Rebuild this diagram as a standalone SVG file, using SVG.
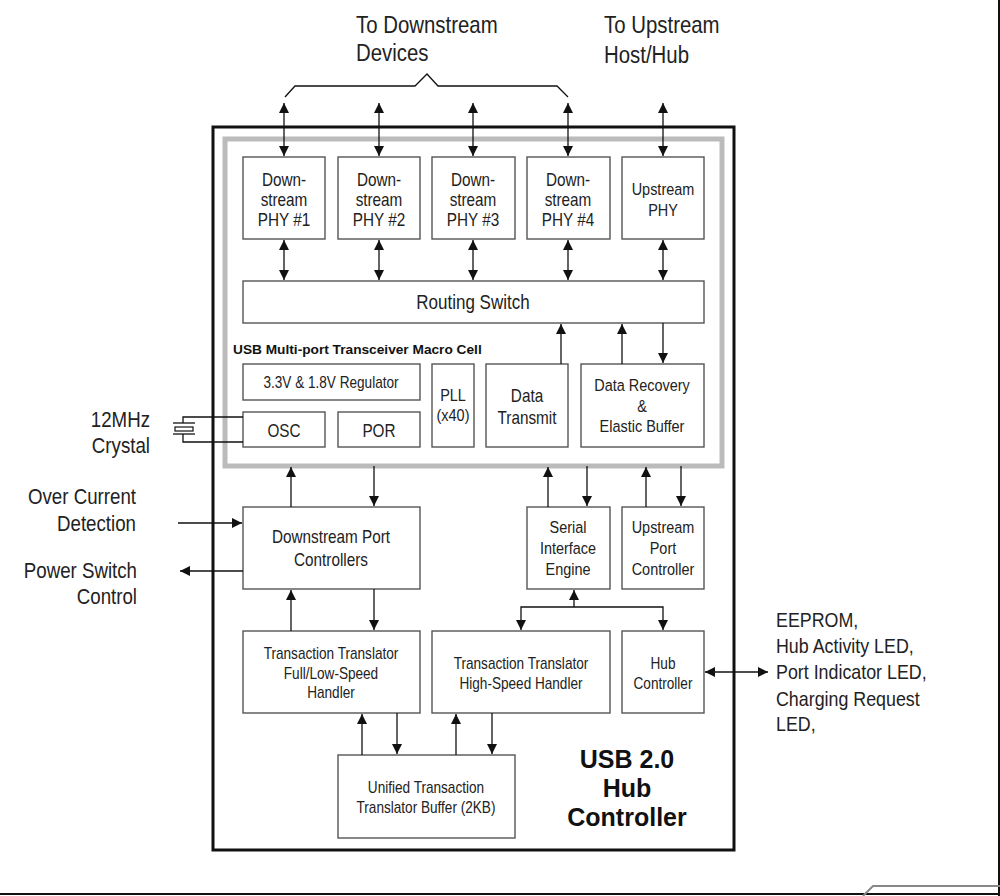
<svg xmlns="http://www.w3.org/2000/svg" width="1000" height="896" viewBox="0 0 1000 896">
<defs>
<style>
.box{fill:#fff;stroke:#555;stroke-width:1.4}
.w{stroke:#111;stroke-width:1.3;fill:none}
.t{font-family:"Liberation Sans",Arial,sans-serif;fill:#222;text-anchor:middle}
.l{font-family:"Liberation Sans",Arial,sans-serif;fill:#222}
.b{font-family:"Liberation Sans",Arial,sans-serif;font-weight:bold;fill:#111}
</style>
<marker id="a" viewBox="0 0 10 10" refX="10" refY="5" markerWidth="10" markerHeight="10" markerUnits="userSpaceOnUse" orient="auto-start-reverse">
<path d="M0,0 L10,5 L0,10 z" fill="#111"/>
</marker>
</defs>
<rect width="1000" height="896" fill="#fff"/>
<g id="frame">
<line x1="0" y1="894" x2="1000" y2="894" stroke="#111" stroke-width="2"/>
<line x1="999" y1="0" x2="999" y2="896" stroke="#111" stroke-width="2"/>
<polyline points="863,896 873,886 1000,886" fill="none" stroke="#888" stroke-width="2"/>
</g>
<g id="hub-controller-chip">
<rect x="213" y="127" width="521" height="723" fill="#fff" stroke="#111" stroke-width="3"/>
<text class="b" font-size="25" text-anchor="middle"><tspan x="627" y="768">USB 2.0</tspan><tspan x="627" y="797">Hub</tspan><tspan x="627" y="826">Controller</tspan></text>
</g>
<g id="macro-cell">
<rect x="225" y="139" width="497" height="327" fill="none" stroke="#bbb" stroke-width="5"/>
<text class="b" x="233" y="354" font-size="13.7">USB Multi-port Transceiver Macro Cell</text>
</g>
<g id="phy1"><rect class="box" x="243" y="157" width="82" height="82"/><text class="t" font-size="18" transform="matrix(0.85 0 0 1 42.6 0)"><tspan x="284" y="186">Down-</tspan><tspan x="284" y="206">stream</tspan><tspan x="284" y="226">PHY #1</tspan></text></g>
<g id="phy2"><rect class="box" x="338" y="157" width="82" height="82"/><text class="t" font-size="18" transform="matrix(0.85 0 0 1 56.85 0)"><tspan x="379" y="186">Down-</tspan><tspan x="379" y="206">stream</tspan><tspan x="379" y="226">PHY #2</tspan></text></g>
<g id="phy3"><rect class="box" x="432" y="157" width="83" height="82"/><text class="t" font-size="18" transform="matrix(0.85 0 0 1 70.95 0)"><tspan x="473" y="186">Down-</tspan><tspan x="473" y="206">stream</tspan><tspan x="473" y="226">PHY #3</tspan></text></g>
<g id="phy4"><rect class="box" x="527" y="157" width="83" height="82"/><text class="t" font-size="18" transform="matrix(0.85 0 0 1 85.2 0)"><tspan x="568" y="186">Down-</tspan><tspan x="568" y="206">stream</tspan><tspan x="568" y="226">PHY #4</tspan></text></g>
<g id="upstream-phy"><rect class="box" x="622" y="157" width="82" height="82"/><text class="t" font-size="17" transform="matrix(0.85 0 0 1 99.45 0)"><tspan x="663" y="195">Upstream</tspan><tspan x="663" y="216">PHY</tspan></text></g>
<g id="routing-switch"><rect class="box" x="243" y="281" width="461" height="42"/><text class="t" x="473" y="309" font-size="20" transform="matrix(0.85 0 0 1 70.95 0)">Routing Switch</text></g>
<g id="regulator"><rect class="box" x="243" y="364" width="177" height="36"/><text class="t" x="331" y="388" font-size="16" transform="matrix(0.85 0 0 1 49.65 0)">3.3V &amp; 1.8V Regulator</text></g>
<g id="osc"><rect class="box" x="243" y="412" width="82" height="35"/><text class="t" x="284" y="437" font-size="18" transform="matrix(0.85 0 0 1 42.6 0)">OSC</text></g>
<g id="por"><rect class="box" x="338" y="412" width="82" height="35"/><text class="t" x="379" y="437" font-size="18" transform="matrix(0.85 0 0 1 56.85 0)">POR</text></g>
<g id="pll"><rect class="box" x="432" y="364" width="42" height="83"/><text class="t" font-size="17" transform="matrix(0.85 0 0 1 67.95 0)"><tspan x="453" y="401">PLL</tspan><tspan x="453" y="421">(x40)</tspan></text></g>
<g id="data-transmit"><rect class="box" x="486" y="364" width="82" height="83"/><text class="t" font-size="18" transform="matrix(0.85 0 0 1 79.05 0)"><tspan x="527" y="402">Data</tspan><tspan x="527" y="424">Transmit</tspan></text></g>
<g id="data-recovery"><rect class="box" x="581" y="364" width="123" height="83"/><text class="t" font-size="17" transform="matrix(0.85 0 0 1 96.3 0)"><tspan x="642" y="391">Data Recovery</tspan><tspan x="642" y="412">&amp;</tspan><tspan x="642" y="432">Elastic Buffer</tspan></text></g>
<g id="downstream-port-controllers"><rect class="box" x="243" y="507" width="177" height="82"/><text class="t" font-size="18" transform="matrix(0.85 0 0 1 49.65 0)"><tspan x="331" y="543">Downstream Port</tspan><tspan x="331" y="566">Controllers</tspan></text></g>
<g id="serial-interface-engine"><rect class="box" x="527" y="507" width="83" height="82"/><text class="t" font-size="17" transform="matrix(0.85 0 0 1 85.2 0)"><tspan x="568" y="533">Serial</tspan><tspan x="568" y="554">Interface</tspan><tspan x="568" y="575">Engine</tspan></text></g>
<g id="upstream-port-controller"><rect class="box" x="622" y="507" width="82" height="82"/><text class="t" font-size="17" transform="matrix(0.85 0 0 1 99.45 0)"><tspan x="663" y="533">Upstream</tspan><tspan x="663" y="554">Port</tspan><tspan x="663" y="575">Controller</tspan></text></g>
<g id="tt-fs-ls"><rect class="box" x="243" y="631" width="177" height="82"/><text class="t" font-size="16" transform="matrix(0.85 0 0 1 49.65 0)"><tspan x="331" y="659">Transaction Translator</tspan><tspan x="331" y="679">Full/Low-Speed</tspan><tspan x="331" y="698">Handler</tspan></text></g>
<g id="tt-hs"><rect class="box" x="432" y="631" width="178" height="82"/><text class="t" font-size="16" transform="matrix(0.85 0 0 1 78.15 0)"><tspan x="521" y="669">Transaction Translator</tspan><tspan x="521" y="689">High-Speed Handler</tspan></text></g>
<g id="hub-controller"><rect class="box" x="622" y="631" width="82" height="82"/><text class="t" font-size="16" transform="matrix(0.85 0 0 1 99.45 0)"><tspan x="663" y="669">Hub</tspan><tspan x="663" y="689">Controller</tspan></text></g>
<g id="tt-buffer"><rect class="box" x="338" y="755" width="177" height="83"/><text class="t" font-size="16" transform="matrix(0.85 0 0 1 63.9 0)"><tspan x="426" y="793">Unified Transaction</tspan><tspan x="426" y="813">Translator Buffer (2KB)</tspan></text></g>
<g id="crystal">
<line class="w" x1="173" y1="423" x2="195" y2="423"/>
<rect x="175" y="427" width="18" height="4" fill="none" stroke="#111" stroke-width="1.2"/>
<line class="w" x1="173" y1="434" x2="195" y2="434"/>
<text class="l" font-size="22" text-anchor="end" transform="matrix(0.85 0 0 1 22.5 0)"><tspan x="150" y="427">12MHz</tspan><tspan x="150" y="453">Crystal</tspan></text>
</g>
<g id="external-labels">
<text class="l" font-size="24" transform="matrix(0.85 0 0 1 53.4 0)"><tspan x="356" y="33">To Downstream</tspan><tspan x="356" y="61">Devices</tspan></text>
<text class="l" font-size="24" transform="matrix(0.85 0 0 1 90.6 0)"><tspan x="604" y="33">To Upstream</tspan><tspan x="604" y="63">Host/Hub</tspan></text>
<text class="l" font-size="22" text-anchor="end" transform="matrix(0.85 0 0 1 20.4 0)"><tspan x="136" y="504">Over Current</tspan><tspan x="136" y="531">Detection</tspan></text>
<text class="l" font-size="22" text-anchor="end" transform="matrix(0.85 0 0 1 20.55 0)"><tspan x="137" y="578">Power Switch</tspan><tspan x="137" y="604">Control</tspan></text>
<text class="l" font-size="21" transform="matrix(0.85 0 0 1 116.4 0)"><tspan x="776" y="627">EEPROM,</tspan><tspan x="776" y="653">Hub Activity LED,</tspan><tspan x="776" y="679">Port Indicator LED,</tspan><tspan x="776" y="706">Charging Request</tspan><tspan x="776" y="731">LED,</tspan></text>
</g>
<g id="connectors">
<polyline class="w" points="285,97 295,86 415,86 427,74 438,86 557,86 568,97"/>
<line class="w" x1="284" y1="103" x2="284" y2="156" marker-start="url(#a)" marker-end="url(#a)"/>
<line class="w" x1="379" y1="103" x2="379" y2="156" marker-start="url(#a)" marker-end="url(#a)"/>
<line class="w" x1="473" y1="103" x2="473" y2="156" marker-start="url(#a)" marker-end="url(#a)"/>
<line class="w" x1="568" y1="103" x2="568" y2="156" marker-start="url(#a)" marker-end="url(#a)"/>
<line class="w" x1="663" y1="103" x2="663" y2="156" marker-start="url(#a)" marker-end="url(#a)"/>
<line class="w" x1="284" y1="240" x2="284" y2="280" marker-start="url(#a)" marker-end="url(#a)"/>
<line class="w" x1="379" y1="240" x2="379" y2="280" marker-start="url(#a)" marker-end="url(#a)"/>
<line class="w" x1="473" y1="240" x2="473" y2="280" marker-start="url(#a)" marker-end="url(#a)"/>
<line class="w" x1="568" y1="240" x2="568" y2="280" marker-start="url(#a)" marker-end="url(#a)"/>
<line class="w" x1="663" y1="240" x2="663" y2="280" marker-start="url(#a)" marker-end="url(#a)"/>
<line class="w" x1="561" y1="364" x2="561" y2="324" marker-end="url(#a)"/>
<line class="w" x1="622" y1="364" x2="622" y2="324" marker-end="url(#a)"/>
<line class="w" x1="663" y1="323" x2="663" y2="363" marker-end="url(#a)"/>
<polyline class="w" points="243,417 183,417 183,423"/>
<polyline class="w" points="183,434 183,442 243,442"/>
<line class="w" x1="291" y1="507" x2="291" y2="467" marker-end="url(#a)"/>
<line class="w" x1="374" y1="466" x2="374" y2="506" marker-end="url(#a)"/>
<line class="w" x1="548" y1="507" x2="548" y2="467" marker-end="url(#a)"/>
<line class="w" x1="587" y1="466" x2="587" y2="506" marker-end="url(#a)"/>
<line class="w" x1="646" y1="507" x2="646" y2="467" marker-end="url(#a)"/>
<line class="w" x1="681" y1="466" x2="681" y2="506" marker-end="url(#a)"/>
<line class="w" x1="178" y1="523" x2="242" y2="523" marker-end="url(#a)"/>
<line class="w" x1="243" y1="571" x2="180" y2="571" marker-end="url(#a)"/>
<line class="w" x1="291" y1="631" x2="291" y2="590" marker-end="url(#a)"/>
<line class="w" x1="374" y1="589" x2="374" y2="630" marker-end="url(#a)"/>
<line class="w" x1="574" y1="607" x2="574" y2="590" marker-end="url(#a)"/>
<polyline class="w" points="521,630 521,607 663,607 663,630" marker-start="url(#a)" marker-end="url(#a)"/>
<line class="w" x1="705" y1="672" x2="768" y2="672" marker-start="url(#a)" marker-end="url(#a)"/>
<line class="w" x1="362" y1="755" x2="362" y2="714" marker-end="url(#a)"/>
<line class="w" x1="397" y1="713" x2="397" y2="754" marker-end="url(#a)"/>
<line class="w" x1="456" y1="755" x2="456" y2="714" marker-end="url(#a)"/>
<line class="w" x1="492" y1="713" x2="492" y2="754" marker-end="url(#a)"/>
</g>
</svg>
